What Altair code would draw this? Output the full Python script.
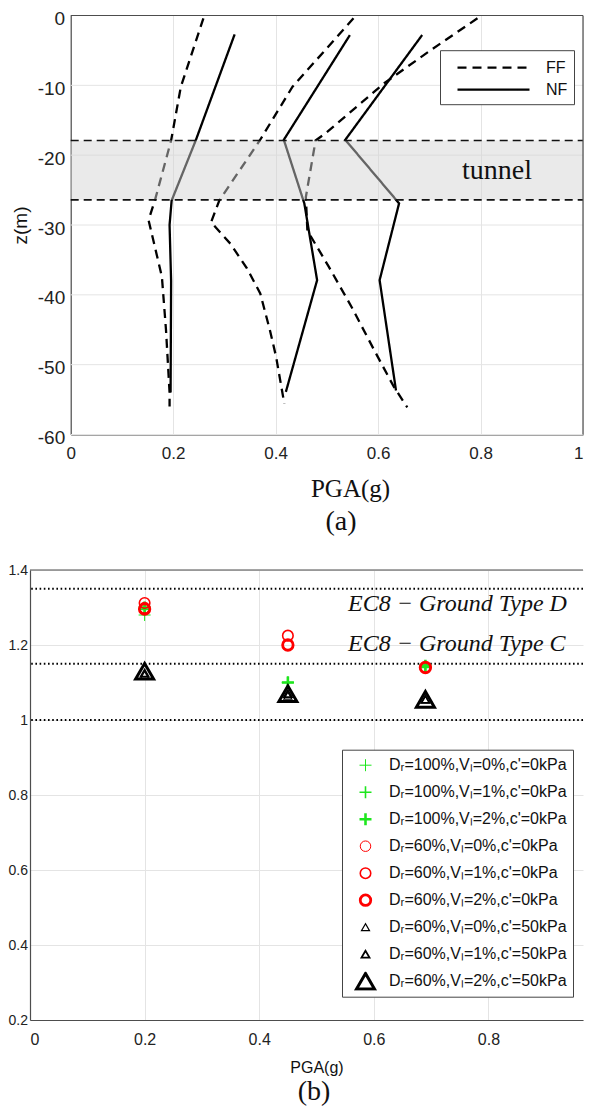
import altair as alt
import pandas as pd

SANS = "Liberation Sans"
SERIF = "Liberation Serif"

# ---------------- panel (a): PGA profiles with depth ----------------
ff1_pga = [0.259, 0.215, 0.196, 0.165, 0.152, 0.178, 0.186, 0.193, 0.193]
ff1_z = [-0.4, -10.2, -17.9, -26.3, -29.3, -37.4, -45.0, -54.0, -56.0]
nf1_pga = [0.320, 0.244, 0.197, 0.193, 0.196, 0.195]
nf1_z = [-2.7, -17.9, -26.5, -30.0, -38.0, -54.0]
ff2_pga = [0.552, 0.433, 0.369, 0.290, 0.274, 0.312, 0.344, 0.370, 0.389, 0.401, 0.417]
ff2_z = [-0.4, -10.2, -17.9, -26.5, -29.6, -32.7, -36.2, -39.8, -45.1, -48.9, -55.6]
nf2_pga = [0.545, 0.416, 0.456, 0.481, 0.420]
nf2_z = [-2.8, -17.8, -26.9, -37.9, -53.9]
ff3_pga = [0.794, 0.702, 0.612, 0.497, 0.478, 0.459, 0.462, 0.504, 0.548, 0.593, 0.631, 0.657]
ff3_z = [-0.4, -5.0, -9.7, -16.9, -17.9, -26.0, -30.8, -36.0, -41.7, -48.0, -53.2, -56.1]
nf3_pga = [0.686, 0.536, 0.641, 0.603, 0.635]
nf3_z = [-2.8, -17.8, -26.9, -37.9, -53.7]

profile_types = ["FF", "NF", "FF", "NF", "FF", "NF"]
profile_pga = [ff1_pga, nf1_pga, ff2_pga, nf2_pga, ff3_pga, nf3_pga]
profile_z = [ff1_z, nf1_z, ff2_z, nf2_z, ff3_z, nf3_z]

tunnel_z = [-17.9, -26.4]
tunnel_label = ["tunnel"]
tunnel_label_pos = [0.832, -22.2]

a_x_ticks = [0, 0.2, 0.4, 0.6, 0.8, 1]
a_y_ticks = [-60, -50, -40, -30, -20, -10, 0]

# ---------------- panel (b): amplification vs PGA ----------------
b_labels = [
    "Dᵣ=100%,Vₗ=0%,c'=0kPa",
    "Dᵣ=100%,Vₗ=1%,c'=0kPa",
    "Dᵣ=100%,Vₗ=2%,c'=0kPa",
    "Dᵣ=60%,Vₗ=0%,c'=0kPa",
    "Dᵣ=60%,Vₗ=1%,c'=0kPa",
    "Dᵣ=60%,Vₗ=2%,c'=0kPa",
    "Dᵣ=60%,Vₗ=0%,c'=50kPa",
    "Dᵣ=60%,Vₗ=1%,c'=50kPa",
    "Dᵣ=60%,Vₗ=2%,c'=50kPa",
]
b_pga = [0.2, 0.45, 0.69]
b_values = [
    [1.280, 1.100, 1.140],
    [1.295, 1.100, 1.140],
    [1.300, 1.100, 1.145],
    [1.300, 1.200, 1.140],
    [1.312, 1.225, 1.140],
    [1.296, 1.200, 1.140],
    [1.120, 1.065, 1.055],
    [1.125, 1.070, 1.055],
    [1.130, 1.070, 1.055],
]
b_colors = ["#1ee61e"] * 3 + ["#ff0000"] * 3 + ["#000000"] * 3
PLUS = "M-1,0H1M0,-1V1"
b_shapes = [PLUS] * 3 + ["circle"] * 3 + ["triangle-up"] * 3
b_sizes = [144, 144, 144, 110, 110, 110, 64, 64, 324]
b_widths = [1.0, 1.6, 2.6, 1.0, 1.6, 2.8, 1.2, 1.8, 3.0]

ec8_levels = [1.35, 1.15, 1.0]
ec8_text = ["EC8 − Ground Type D", "EC8 − Ground Type C"]
ec8_x = [0.555, 0.555]
ec8_y = [1.291, 1.185]
b_border = [1.4]
b_x_ticks = [0, 0.2, 0.4, 0.6, 0.8]
b_y_ticks = [0.2, 0.4, 0.6, 0.8, 1.0, 1.2, 1.4]

# ---------------- tables ----------------
rows = []
for k, (t, xs, zs) in enumerate(zip(profile_types, profile_pga, profile_z)):
    for i, (x, z) in enumerate(zip(xs, zs)):
        rows.append({"series": f"p{k}", "type": t, "pga": x, "z": z, "idx": i})
df_a = pd.DataFrame(rows)
df_band = pd.DataFrame({"x0": [0.0], "x1": [1.0], "za": [tunnel_z[0]], "zb": [tunnel_z[1]]})
df_trules = pd.DataFrame({"x0": [0.0, 0.0], "x1": [1.0, 1.0], "z": tunnel_z})
df_top = pd.DataFrame({"x0": [0.0], "x1": [1.0], "z": [0.0]})
df_right = pd.DataFrame({"x": [1.0], "z0": [-60.0], "z1": [0.0]})
df_tlabel = pd.DataFrame({"x": [tunnel_label_pos[0]], "z": [tunnel_label_pos[1]], "t": tunnel_label})
df_ygrid = pd.DataFrame({"x0": [0.0] * len(a_y_ticks), "x1": [1.0] * len(a_y_ticks), "z": a_y_ticks})

rows = []
for lab, vals in zip(b_labels, b_values):
    for x, v in zip(b_pga, vals):
        rows.append({"case": lab, "pga": x, "amp": v})
df_b = pd.DataFrame(rows)
df_lv = pd.DataFrame({"v": ec8_levels})
df_ec8 = pd.DataFrame({"x": ec8_x, "y": ec8_y, "t": ec8_text})
df_bb = pd.DataFrame({"v": b_border})

# ---------------- panel (a) chart ----------------
W_A, H_A = 553, 419
xs_a = alt.Scale(domain=[0, 1], range=[40.7, 553], nice=False, zero=False)
ys_a = alt.Scale(domain=[-60, 0], nice=False, zero=False)
ax_a_x = alt.Axis(values=a_x_ticks, format="~g", labelFont=SANS, labelFontSize=17,
                  labelColor="#222", labelPadding=11, ticks=False,
                  labelAlign={"expr": "datum.value >= 1 ? 'right' : 'center'"},
                  domainColor="#4d4d4d", domainWidth=1.2, gridColor="#e4e4e4",
                  title="PGA(g)", titleFont=SERIF, titleFontSize=25, titleFontWeight="normal",
                  titleColor="#111", titleX=320, titleY=62, titleBaseline="alphabetic")
ax_a_y = alt.Axis(values=a_y_ticks, offset=-40.7, grid=False, labelFont=SANS, labelFontSize=19,
                  labelColor="#222", labelPadding=6, labelOffset=3, ticks=False,
                  labelExpr="datum.value < 0 ? '-' + (-datum.value) : '' + datum.value",
                  domainColor="#4d4d4d", domainWidth=1.2,
                  title="z(m)", titleFont=SANS, titleFontSize=19, titleFontWeight="normal",
                  titleColor="#111", titleX=-50, titleY=209.5, titleAngle=270,
                  titleBaseline="middle", titleAlign="center")

ygrid = alt.Chart(df_ygrid).mark_rule(color="#e4e4e4", strokeWidth=1).encode(
    x=alt.X("x0:Q", scale=xs_a, axis=ax_a_x), x2="x1:Q",
    y=alt.Y("z:Q", scale=ys_a, axis=ax_a_y),
)
lines = alt.Chart(df_a).mark_line(color="black", strokeWidth=2.3).encode(
    x=alt.X("pga:Q", scale=xs_a, axis=ax_a_x),
    y=alt.Y("z:Q", scale=ys_a, axis=ax_a_y),
    detail="series:N",
    order="idx:Q",
    strokeDash=alt.StrokeDash(
        "type:N",
        scale=alt.Scale(domain=["FF", "NF"], range=[[9, 6], [1, 0]]),
        legend=alt.Legend(orient="none", legendX=410, legendY=34.7, title=None,
                          symbolType="M-3.6,0H3.6", symbolSize=400, symbolStrokeWidth=2.3,
                          symbolStrokeColor="black", symbolOffset=36, labelOffset=41,
                          labelFont=SANS, labelFontSize=16, labelColor="#111",
                          strokeColor="#444", fillColor="white", padding=6, rowPadding=2),
    ),
)
band = alt.Chart(df_band).mark_rect(fill="#d4d4d4", opacity=0.48).encode(
    x=alt.X("x0:Q", scale=xs_a), x2="x1:Q",
    y=alt.Y("za:Q", scale=ys_a), y2="zb:Q",
)
trules = alt.Chart(df_trules).mark_rule(color="#111", strokeWidth=1.7, strokeDash=[8, 5]).encode(
    x=alt.X("x0:Q", scale=xs_a), x2="x1:Q", y=alt.Y("z:Q", scale=ys_a),
)
top_border = alt.Chart(df_top).mark_rule(color="#4d4d4d", strokeWidth=1.2).encode(
    x=alt.X("x0:Q", scale=xs_a), x2="x1:Q", y=alt.Y("z:Q", scale=ys_a),
)
right_border = alt.Chart(df_right).mark_rule(color="#4d4d4d", strokeWidth=1.2).encode(
    x=alt.X("x:Q", scale=xs_a), y=alt.Y("z0:Q", scale=ys_a), y2="z1:Q",
)
tlabel = alt.Chart(df_tlabel).mark_text(font=SERIF, fontSize=28, color="#111",
                                        align="center", baseline="middle").encode(
    x=alt.X("x:Q", scale=xs_a), y=alt.Y("z:Q", scale=ys_a), text="t:N",
)

chart_a = alt.layer(ygrid, lines, band, trules, top_border, right_border, tlabel).properties(
    width=W_A, height=H_A,
    title=alt.TitleParams(text="(a)", orient="bottom", anchor="middle", font=SERIF,
                          fontSize=28, fontWeight="normal", color="#111", dx=34.5, offset=6.5),
)

# ---------------- panel (b) chart ----------------
W_B, H_B = 553, 450
xs_b = alt.Scale(domain=[0, 0.965], nice=False, zero=False)
ys_b = alt.Scale(domain=[0.2, 1.4], nice=False, zero=False)
ax_b_x = alt.Axis(values=b_x_ticks, format="~g", labelFont=SANS, labelFontSize=16,
                  labelColor="#222", labelPadding=11, ticks=False,
                  domainColor="#4d4d4d", domainWidth=1.2, gridColor="#e4e4e4",
                  title="PGA(g)", titleFont=SANS, titleFontSize=16, titleFontWeight="normal",
                  titleColor="#111", titleX=286.5, titleY=52, titleBaseline="alphabetic")
ax_b_y = alt.Axis(values=b_y_ticks, format="~g", labelFont=SANS, labelFontSize=14,
                  labelColor="#222", labelPadding=2.5, ticks=False,
                  domainColor="#4d4d4d", domainWidth=1.2, gridColor="#e4e4e4", title=None)

levels = alt.Chart(df_lv).mark_rule(color="black", strokeWidth=1.8, strokeDash=[1.6, 2.6]).encode(
    y=alt.Y("v:Q", scale=ys_b, axis=ax_b_y),
)
bborder = alt.Chart(df_bb).mark_rule(color="#4d4d4d", strokeWidth=1.2).encode(
    y=alt.Y("v:Q", scale=ys_b),
)
ec8 = alt.Chart(df_ec8).mark_text(font=SERIF, fontStyle="italic", fontSize=24, color="#111",
                                  align="left", baseline="alphabetic").encode(
    x=alt.X("x:Q", scale=xs_b, axis=ax_b_x), y=alt.Y("y:Q", scale=ys_b), text="t:N",
)
pts = alt.Chart(df_b).mark_point(filled=False, opacity=1).encode(
    x=alt.X("pga:Q", scale=xs_b, axis=ax_b_x),
    y=alt.Y("amp:Q", scale=ys_b, axis=ax_b_y),
    color=alt.Color("case:N", scale=alt.Scale(domain=b_labels, range=b_colors),
                    legend=alt.Legend(orient="none", legendX=312, legendY=179.7, title=None,
                                      padding=6, rowPadding=8, clipHeight=19,
                                      symbolOffset=7, labelOffset=13,
                                      labelFont=SANS, labelFontSize=16, labelColor="#111",
                                      labelLimit=400, strokeColor="#444", fillColor="white")),
    shape=alt.Shape("case:N", scale=alt.Scale(domain=b_labels, range=b_shapes)),
    size=alt.Size("case:N", scale=alt.Scale(type="ordinal", domain=b_labels, range=b_sizes)),
    strokeWidth=alt.StrokeWidth("case:N", scale=alt.Scale(type="ordinal", domain=b_labels,
                                                          range=b_widths)),
)

chart_b = alt.layer(levels, bborder, ec8, pts).properties(
    width=W_B, height=H_B,
    title=alt.TitleParams(text="(b)", orient="bottom", anchor="middle", font=SERIF,
                          fontSize=28, fontWeight="normal", color="#111", dx=7.5, offset=3),
)

chart = alt.vconcat(chart_a, chart_b, spacing=26.5).resolve_legend(
    strokeDash="independent", color="independent", shape="independent",
    size="independent", strokeWidth="independent",
).properties(
    padding={"left": 0, "top": 1.5, "right": 0, "bottom": 0},
    background="white",
).configure_view(stroke=None)

chart.save("out.html", embed_options={"renderer": "svg", "actions": False})
